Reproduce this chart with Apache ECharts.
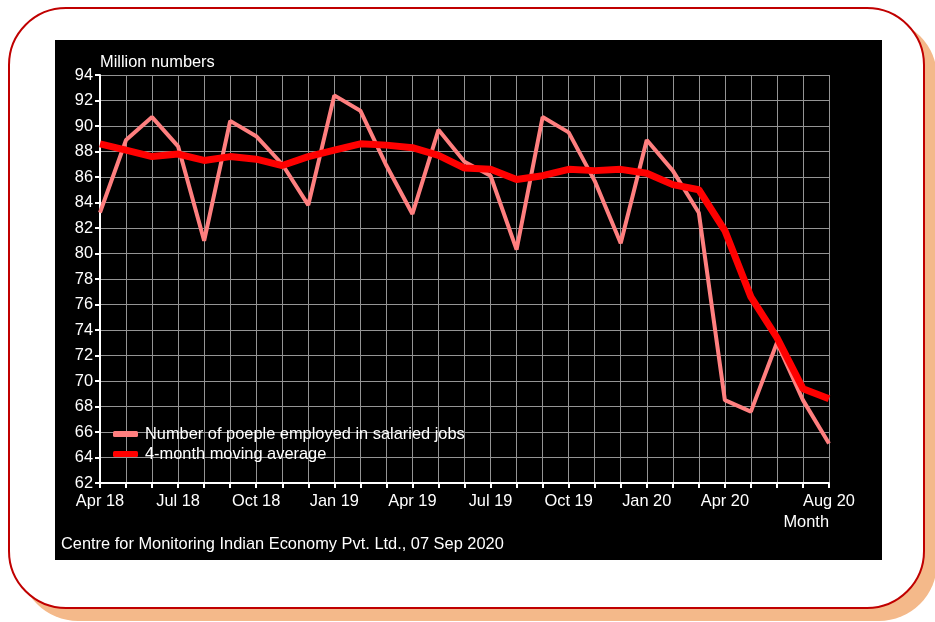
<!DOCTYPE html>
<html>
<head>
<meta charset="utf-8">
<script src="https://cdn.jsdelivr.net/npm/echarts@6/dist/echarts.min.js"></script>
<style>
  html, body { margin: 0; padding: 0; background: #fff; }
  .frame {
    position: absolute; left: 8px; top: 7px;
    width: 913px; height: 598px;
    border: 2px solid #c00000; border-radius: 58px;
    background: #fff;
    box-shadow: 12px 12px 0 #f4b98a;
  }
  #chart {
    position: absolute; left: 55px; top: 40px;
    width: 827px; height: 520px;
    background: #000;
  }
</style>
</head>
<body>
<div class="frame"></div>
<div id="chart"></div>
<script>
const months = [
  'Apr 18', 'May 18', 'Jun 18', 'Jul 18', 'Aug 18', 'Sep 18', 'Oct 18', 'Nov 18', 'Dec 18',
  'Jan 19', 'Feb 19', 'Mar 19', 'Apr 19', 'May 19', 'Jun 19', 'Jul 19', 'Aug 19', 'Sep 19',
  'Oct 19', 'Nov 19', 'Dec 19', 'Jan 20', 'Feb 20', 'Mar 20', 'Apr 20', 'May 20', 'Jun 20',
  'Jul 20', 'Aug 20'
]
const tickLabels = ['Apr 18', 'Jul 18', 'Oct 18', 'Jan 19', 'Apr 19', 'Jul 19', 'Oct 19', 'Jan 20', 'Apr 20', 'Aug 20']

// salaried employment, million
const employed = [
  83.2, 88.9, 90.7, 88.4, 81.0, 90.4, 89.2, 87.0, 83.8,
  92.4, 91.2, 86.9, 83.1, 89.7, 87.2, 86.1, 80.3, 90.7,
  89.5, 85.7, 80.8, 88.9, 86.5, 83.2, 68.5, 67.6, 73.0,
  68.5, 65.1
]
const movingAvg = [
  88.6, 88.1, 87.6, 87.8, 87.3, 87.6, 87.4, 86.9, 87.6,
  88.1, 88.6, 88.5, 88.3, 87.7, 86.7, 86.6, 85.8, 86.1,
  86.6, 86.5, 86.6, 86.3, 85.4, 85.0, 81.8, 76.6, 73.4,
  69.4, 68.6
]

const FONT = 'Liberation Sans, Arial, sans-serif'
const FS = 16.4
const GRID_COLOR = '#949494'

const chart = echarts.init(document.getElementById('chart'))
chart.setOption({
  backgroundColor: '#000',
  animation: false,
  textStyle: { fontFamily: FONT },
  grid: { left: 45, right: 53, top: 35, bottom: 77 },
  legend: {
    orient: 'vertical',
    left: 58,
    top: 386,
    padding: 0,
    itemWidth: 25,
    itemHeight: 6,
    itemGap: 4,
    icon: 'roundRect',
    textStyle: { color: '#fff', fontSize: FS, fontFamily: FONT, padding: [0, 0, 0, 2] },
    data: ['Number of poeple employed in salaried jobs', '4-month moving average']
  },
  xAxis: {
    type: 'category',
    data: months,
    boundaryGap: false,
    axisLine: { lineStyle: { color: '#fff', width: 2 } },
    axisTick: { show: true, interval: 0, length: 5, lineStyle: { color: '#fff', width: 2 } },
    axisLabel: {
      color: '#fff', fontSize: FS, fontFamily: FONT, margin: 10,
      interval: (i, name) => tickLabels.includes(name)
    },
    splitLine: { show: true, interval: 0, lineStyle: { color: GRID_COLOR, width: 1 } }
  },
  yAxis: {
    type: 'value',
    min: 62,
    max: 94,
    interval: 2,
    axisLine: { show: true, lineStyle: { color: '#fff', width: 2 } },
    axisTick: { show: true, length: 5, lineStyle: { color: '#fff', width: 2 } },
    axisLabel: { color: '#fff', fontSize: FS, fontFamily: FONT, margin: 7 },
    splitLine: { show: true, lineStyle: { color: GRID_COLOR, width: 1 } }
  },
  graphic: [
    {
      type: 'text', left: 45, top: 14,
      style: { text: 'Million numbers', fill: '#fff', font: FS + 'px ' + FONT }
    },
    {
      type: 'text', right: 53, top: 474,
      style: { text: 'Month', fill: '#fff', font: FS + 'px ' + FONT, align: 'right' }
    },
    {
      type: 'text', left: 6, top: 496,
      style: { text: 'Centre for Monitoring Indian Economy Pvt. Ltd., 07 Sep 2020', fill: '#fff', font: FS + 'px ' + FONT }
    }
  ],
  series: [
    {
      name: 'Number of poeple employed in salaried jobs',
      type: 'line',
      data: employed,
      symbol: 'none',
      color: '#ff7f7f',
      lineStyle: { width: 4, color: '#ff7f7f' }
    },
    {
      name: '4-month moving average',
      type: 'line',
      data: movingAvg,
      symbol: 'none',
      color: '#ff0000',
      lineStyle: { width: 7, color: '#ff0000' }
    }
  ]
})
</script>
</body>
</html>
